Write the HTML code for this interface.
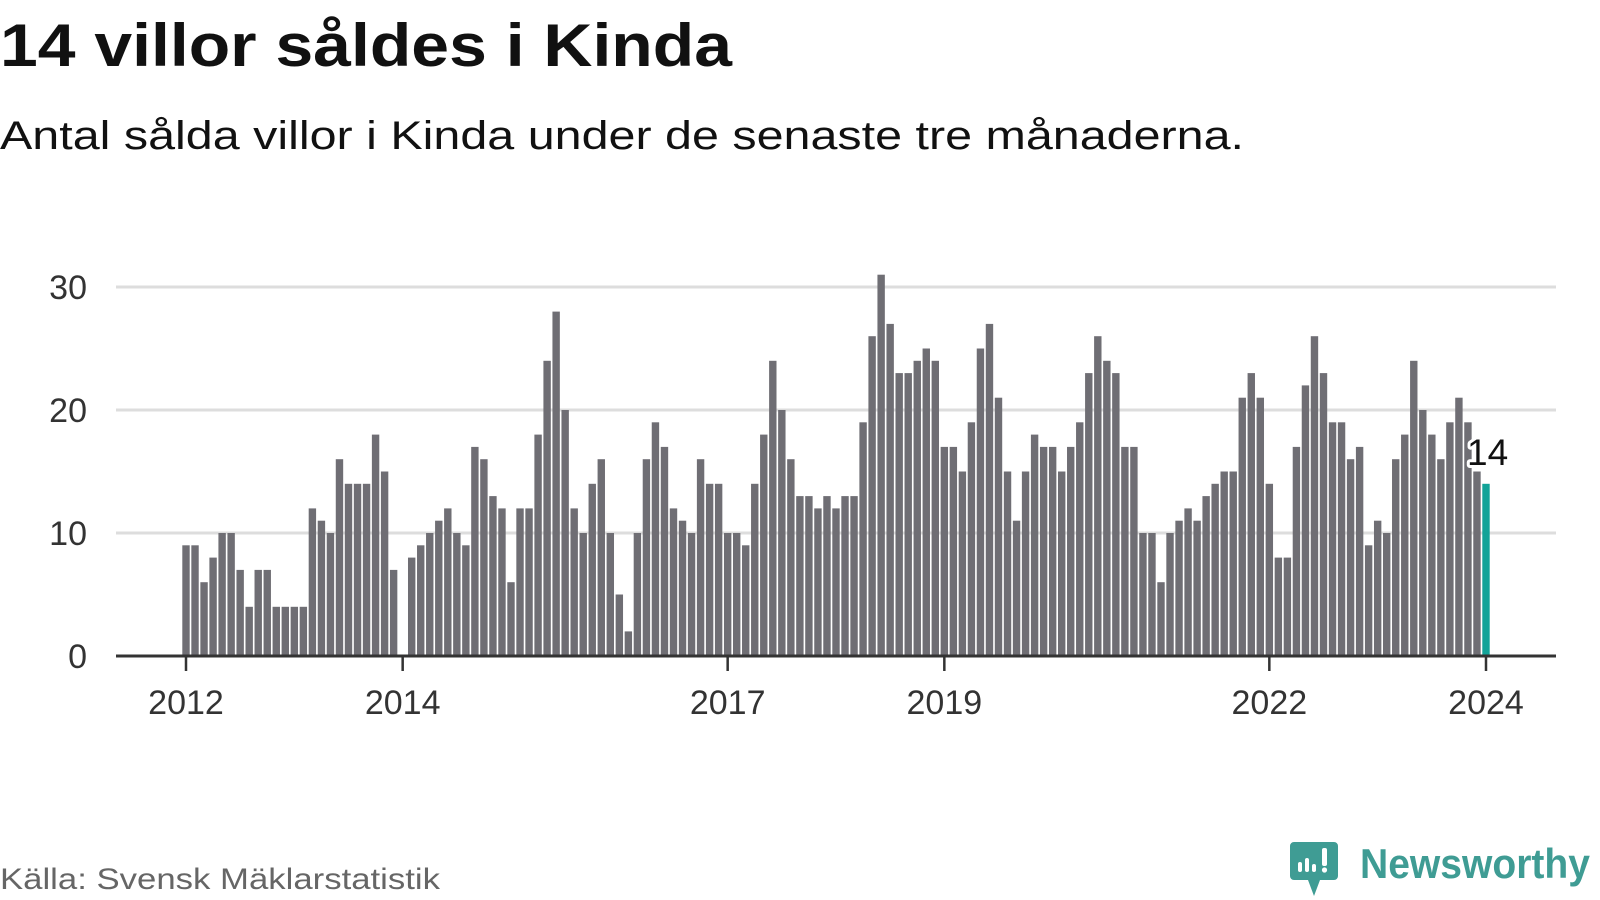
<!DOCTYPE html>
<html><head><meta charset="utf-8"><style>
html,body{margin:0;padding:0;background:#fff;}
svg{display:block;font-family:"Liberation Sans",sans-serif;}
</style></head><body>
<svg id="chart" width="1600" height="900" viewBox="0 0 1600 900" xmlns="http://www.w3.org/2000/svg">
<text x="0" y="66" font-size="60" font-weight="bold" fill="#111" textLength="732" lengthAdjust="spacingAndGlyphs">14 villor såldes i Kinda</text>
<text x="0" y="149" font-size="40" fill="#111" textLength="1244" lengthAdjust="spacingAndGlyphs">Antal sålda villor i Kinda under de senaste tre månaderna.</text>
<g id="grid"></g>
<g id="bars"></g>
<g id="axes"></g>
<text x="0" y="889" font-size="30" fill="#666" textLength="440" lengthAdjust="spacingAndGlyphs">Källa: Svensk Mäklarstatistik</text>
<g>
<path d="M1294 842 h40 a4 4 0 0 1 4 4 v30 a4 4 0 0 1 -4 4 h-14 l-6 16 l-6 -16 h-14 a4 4 0 0 1 -4 -4 v-30 a4 4 0 0 1 4 -4z" fill="#3f9c94"/>
<rect x="1298" y="862" width="4" height="10" rx="2" fill="#fff"/>
<rect x="1305" y="858" width="4" height="14" rx="2" fill="#fff"/>
<rect x="1312" y="864" width="4" height="8" rx="2" fill="#fff"/>
<rect x="1322" y="848" width="5" height="18" rx="2" fill="#fff"/>
<circle cx="1324.5" cy="870" r="2.6" fill="#fff"/>
<text x="1360" y="878" font-size="42" font-weight="bold" fill="#3f9c94" textLength="230" lengthAdjust="spacingAndGlyphs">Newsworthy</text>
</g>
</svg>
<script>
const values2012 = [9,9,6,8,10,10,7,4,7,7,4,4];
const values2013 = [4,4,12,11,10,16,14,14,14,18,15,7];
const values2014 = [0,8,9,10,11,12,10,9,17,16,13,12];
const values2015 = [6,12,12,18,24,28,20,12,10,14,16,10];
const values2016 = [5,2,10,16,19,17,12,11,10,16,14,14];
const values2017 = [10,10,9,14,18,24,20,16,13,13,12,13];
const values2018 = [12,13,13,19,26,31,27,23,23,24,25,24];
const values2019 = [17,17,15,19,25,27,21,15,11,15,18,17];
const values2020 = [17,15,17,19,23,26,24,23,17,17,10,10];
const values2021 = [6,10,11,12,11,13,14,15,15,21,23,21];
const values2022 = [14,8,8,17,22,26,23,19,19,16,17,9];
const values2023 = [11,10,16,18,24,20,18,16,19,21,19,15];
const values2024 = [14];
const startYear = 2012;
const yTicks = [0,10,20,30];
const xTickYears = [2012,2014,2017,2019,2022,2024];

const values = [].concat(values2012,values2013,values2014,values2015,values2016,values2017,values2018,values2019,values2020,values2021,values2022,values2023,values2024);
const NS = "http://www.w3.org/2000/svg";
const x0 = 186, step = 1300/144, y0 = 656, unit = 12.3, left = 116, right = 1556;
const xScale = i => x0 + i*step;
const yScale = v => y0 - v*unit;
function mk(tag, attrs, parent){ const e = document.createElementNS(NS, tag); for (const k in attrs) e.setAttribute(k, attrs[k]); parent.appendChild(e); return e; }
const grid = document.getElementById('grid'), bars = document.getElementById('bars'), axes = document.getElementById('axes');
yTicks.forEach(t => {
  if (t > 0) {
    const l = mk('line', {x1:left, x2:right, y1:yScale(t), y2:yScale(t), stroke:'#dddddd', 'stroke-width':3}, grid);
    
    
  }
  const tx = mk('text', {x:87, y:yScale(t)+12, 'font-size':34, fill:'#333', 'text-anchor':'end'}, axes);
  tx.textContent = t;
  
  
});
values.forEach((v, i) => {
  const last = i === values.length - 1;
  const r = mk('rect', {x:xScale(i)-3.7, y:yScale(v), width:7.4, height:v*unit, fill: last ? '#12a398' : '#6f6e74'}, bars);
  
  
});
const ax = mk('line', {x1:left, x2:right, y1:y0, y2:y0, stroke:'#333', 'stroke-width':3}, axes);


xTickYears.forEach(yr => {
  const xi = xScale((yr - startYear)*12);
  const tk = mk('line', {x1:xi, x2:xi, y1:y0, y2:y0+15, stroke:'#333', 'stroke-width':2.5}, axes);
  
  
  const tx = mk('text', {x:xi, y:714, 'font-size':34, fill:'#333', 'text-anchor':'middle'}, axes);
  tx.textContent = yr;
  
  
});
const lastI = values.length - 1;
const lbl = mk('text', {x:xScale(lastI)-19, y:yScale(values[lastI])-19, 'font-size':37, fill:'#111', stroke:'#fff', 'stroke-width':6, 'paint-order':'stroke', 'stroke-linejoin':'round'}, axes);
lbl.textContent = values[lastI];


</script>
</body></html>
